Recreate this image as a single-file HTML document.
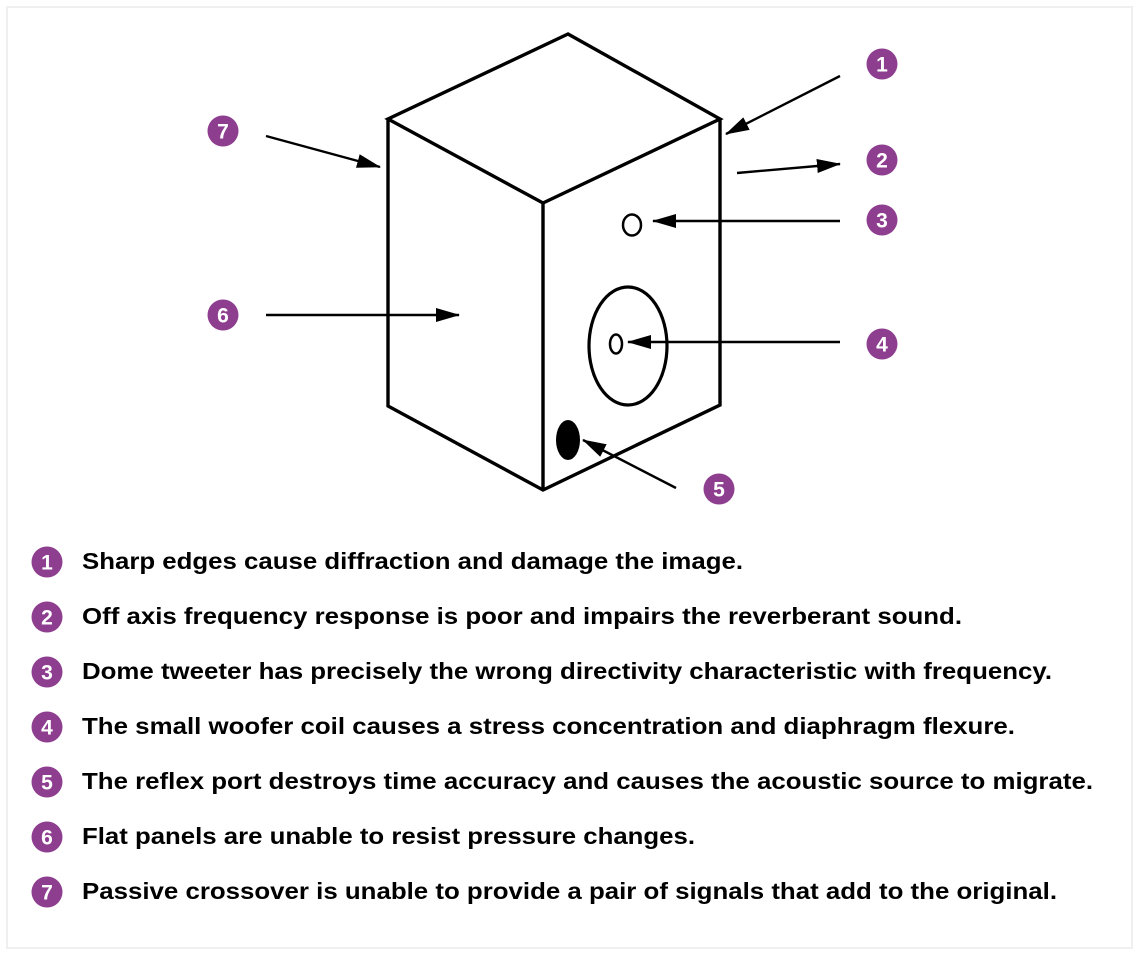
<!DOCTYPE html>
<html><head><meta charset="utf-8"><style>
html,body{margin:0;padding:0;background:#fff;}
svg{display:block;}
</style></head><body>
<svg width="1140" height="956" viewBox="0 0 1140 956" xmlns="http://www.w3.org/2000/svg">
<defs>
<marker id="ah" markerWidth="24" markerHeight="14" refX="23" refY="7" orient="auto" markerUnits="userSpaceOnUse">
<path d="M0,0 L24,7 L0,14 Z" fill="#000"/>
</marker>
</defs>
<rect x="0" y="0" width="1140" height="956" fill="#fff"/>
<rect x="7" y="7" width="1125" height="941" fill="none" stroke="#efefef" stroke-width="2"/>

<!-- box -->
<g fill="none" stroke="#000" stroke-width="3.4" stroke-linejoin="miter">
<polygon points="568,34 720,119 543,203 388,119"/>
<polyline points="388,119 388,406 543,490 720,405 720,119"/>
<line x1="543" y1="203" x2="543" y2="490"/>
</g>
<ellipse cx="632" cy="225" rx="9" ry="10.5" fill="none" stroke="#000" stroke-width="2.5"/>
<ellipse cx="628" cy="346" rx="39" ry="59" fill="none" stroke="#000" stroke-width="3.2"/>
<ellipse cx="616" cy="344" rx="6" ry="9.5" fill="none" stroke="#000" stroke-width="2.5"/>
<ellipse cx="568" cy="440" rx="12" ry="20" fill="#000"/>

<!-- arrows -->
<g stroke="#000" stroke-width="2.4" fill="none" marker-end="url(#ah)">
<line x1="840" y1="76" x2="726" y2="134"/>
<line x1="737" y1="173" x2="840" y2="164"/>
<line x1="840" y1="221" x2="653" y2="221"/>
<line x1="840" y1="342" x2="628" y2="342"/>
<line x1="676" y1="488" x2="583" y2="440"/>
<line x1="266" y1="315" x2="459" y2="315"/>
<line x1="266" y1="136" x2="380" y2="167"/>
</g>

<!-- badges on diagram -->
<g font-family="Liberation Sans, Arial, sans-serif" font-weight="bold" font-size="21" fill="#fff" text-anchor="middle">
<circle cx="882" cy="64" r="15.5" fill="#8e3e8f"/><text x="882" y="71.5">1</text>
<circle cx="882" cy="160" r="15.5" fill="#8e3e8f"/><text x="882" y="167.5">2</text>
<circle cx="882" cy="220" r="15.5" fill="#8e3e8f"/><text x="882" y="227.5">3</text>
<circle cx="882" cy="344" r="15.5" fill="#8e3e8f"/><text x="882" y="351.5">4</text>
<circle cx="719" cy="489" r="15.5" fill="#8e3e8f"/><text x="719" y="496.5">5</text>
<circle cx="223" cy="315" r="15.5" fill="#8e3e8f"/><text x="223" y="322.5">6</text>
<circle cx="223" cy="131" r="15.5" fill="#8e3e8f"/><text x="223" y="138.5">7</text>
</g>

<!-- legend badges -->
<g font-family="Liberation Sans, Arial, sans-serif" font-weight="bold" font-size="21" fill="#fff" text-anchor="middle">
<circle cx="47" cy="562" r="15.5" fill="#8e3e8f"/><text x="47" y="569.5">1</text>
<circle cx="47" cy="617" r="15.5" fill="#8e3e8f"/><text x="47" y="624.5">2</text>
<circle cx="47" cy="672" r="15.5" fill="#8e3e8f"/><text x="47" y="679.5">3</text>
<circle cx="47" cy="727" r="15.5" fill="#8e3e8f"/><text x="47" y="734.5">4</text>
<circle cx="47" cy="782" r="15.5" fill="#8e3e8f"/><text x="47" y="789.5">5</text>
<circle cx="47" cy="837" r="15.5" fill="#8e3e8f"/><text x="47" y="844.5">6</text>
<circle cx="47" cy="892" r="15.5" fill="#8e3e8f"/><text x="47" y="899.5">7</text>
</g>

<!-- legend text -->
<g font-family="Liberation Sans, Arial, sans-serif" font-weight="bold" font-size="23.5" fill="#000">
<text x="82" y="569" textLength="661" lengthAdjust="spacingAndGlyphs">Sharp edges cause diffraction and damage the image.</text>
<text x="82" y="624" textLength="880" lengthAdjust="spacingAndGlyphs">Off axis frequency response is poor and impairs the reverberant sound.</text>
<text x="82" y="679" textLength="970" lengthAdjust="spacingAndGlyphs">Dome tweeter has precisely the wrong directivity characteristic with frequency.</text>
<text x="82" y="734" textLength="933" lengthAdjust="spacingAndGlyphs">The small woofer coil causes a stress concentration and diaphragm flexure.</text>
<text x="82" y="789" textLength="1011" lengthAdjust="spacingAndGlyphs">The reflex port destroys time accuracy and causes the acoustic source to migrate.</text>
<text x="82" y="844" textLength="613" lengthAdjust="spacingAndGlyphs">Flat panels are unable to resist pressure changes.</text>
<text x="82" y="899" textLength="975" lengthAdjust="spacingAndGlyphs">Passive crossover is unable to provide a pair of signals that add to the original.</text>
</g>
</svg>
</body></html>
